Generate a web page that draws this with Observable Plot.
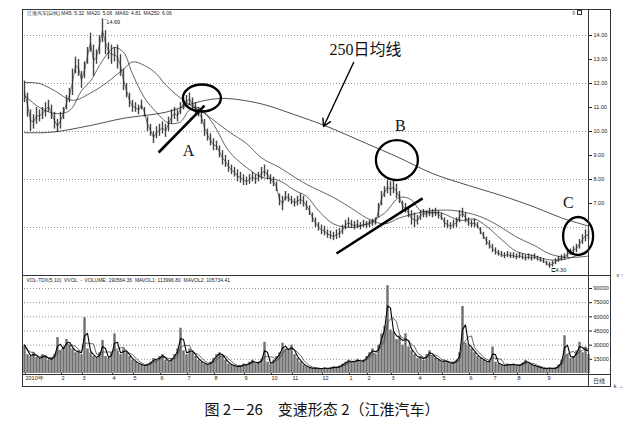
<!DOCTYPE html>
<html>
<head>
<meta charset="utf-8">
<script src="https://cdn.jsdelivr.net/npm/d3@7"></script>
<script src="https://cdn.jsdelivr.net/npm/@observablehq/plot@0.6"></script>
<style>
body { margin: 0; background: #fff; }
#wrap { position: relative; width: 626px; height: 422px; overflow: hidden; font-family: "Liberation Sans", sans-serif; }
#price, #vol, #chrome { position: absolute; left: 0; }
#price { top: 0; }
#vol { top: 270px; }
#chrome { top: 0; pointer-events: none; }
#caption { position: absolute; top: 398px; left: 9px; width: 626px; text-align: center;
  font-family: "Noto Sans CJK SC"; font-size: 15px; color: #111; }
</style>
</head>
<body>
<div id="wrap">
  <div id="price"></div>
  <div id="vol"></div>
  <svg id="chrome" width="626" height="400"></svg>
  <div id="caption">图 2－26　变速形态 2（江淮汽车）</div>
</div>
<script>
// one sample every ~2.3 trading days (high / low)
let hi = [
  12.1,11.6,10.9,10.7,11.0,10.9,11.0,11.2,11.3,11.1,
  10.8,10.5,10.8,11.0,11.5,11.8,12.6,13.1,13.0,12.5,
  12.9,13.5,14.1,13.6,13.4,14.0,14.69,14.2,13.7,13.6,
  13.5,13.6,13.2,12.6,12.0,11.6,11.3,11.2,11.1,11.3,
  11.0,10.6,10.3,10.0,10.2,10.3,10.4,10.3,10.6,10.9,
  11.0,10.9,11.2,11.4,11.5,11.6,11.4,11.2,11.0,10.9,
  10.5,10.1,9.9,9.7,9.6,9.4,9.2,9.0,8.8,8.6,
  8.5,8.4,8.3,8.2,8.1,8.2,8.3,8.2,8.3,8.5,
  8.6,8.4,8.2,8.1,7.9,7.4,7.3,7.5,7.4,7.3,
  7.2,7.3,7.4,7.3,7.1,6.9,6.6,6.4,6.2,6.1,
  6.05,5.9,5.85,5.8,5.9,5.95,6.1,6.3,6.4,6.3,
  6.25,6.3,6.2,6.3,6.25,6.3,6.35,6.4,7.0,7.5,
  7.7,7.95,7.9,7.95,7.8,7.5,7.1,7.0,6.8,6.7,
  6.6,6.5,6.7,6.75,6.7,6.8,6.75,6.8,6.7,6.6,
  6.4,6.3,6.2,6.3,6.4,6.7,6.8,6.6,6.4,6.3,
  6.35,6.2,6.0,5.8,5.6,5.45,5.3,5.15,5.05,5.0,
  4.95,5.0,4.95,4.95,4.9,4.95,4.9,4.85,4.9,4.85,
  4.9,4.8,4.75,4.7,4.6,4.55,4.6,4.7,4.8,4.85,
  4.9,5.0,5.1,5.2,5.3,5.5,5.7,5.9,5.9
];
let lo = [
  11.2,10.6,10.0,10.1,10.3,10.4,10.5,10.6,10.8,10.5,
  10.1,9.95,10.1,10.5,10.9,11.2,11.5,12.4,12.3,11.8,
  12.2,12.8,13.3,12.3,12.8,13.2,13.7,13.2,13.0,12.8,
  12.9,12.6,12.3,11.7,11.4,11.0,10.8,10.8,10.7,10.9,
  10.6,10.0,9.8,9.5,9.7,9.8,9.9,9.75,10.0,10.3,
  10.5,10.4,10.7,10.9,11.0,11.1,10.9,10.75,10.6,10.3,
  9.8,9.6,9.4,9.2,9.2,8.9,8.6,8.5,8.3,8.2,
  8.1,7.9,7.85,7.75,7.75,7.8,7.9,7.8,7.9,8.0,
  8.1,8.0,7.8,7.7,7.5,6.9,6.7,7.1,7.05,6.95,
  6.85,6.9,6.95,6.85,6.7,6.5,6.2,6.0,5.85,5.7,
  5.65,5.55,5.5,5.45,5.5,5.55,5.7,5.9,6.0,5.95,
  5.9,5.95,5.9,6.0,5.95,6.0,6.05,6.1,6.4,6.9,
  7.25,7.4,7.3,7.4,7.2,7.0,6.7,6.6,6.4,6.1,
  6.0,6.1,6.3,6.4,6.4,6.45,6.4,6.45,6.35,6.3,
  6.0,5.95,5.9,5.95,6.0,6.2,6.4,6.2,6.05,6.0,
  6.0,5.95,5.7,5.5,5.25,5.1,4.95,4.85,4.8,4.75,
  4.7,4.75,4.7,4.7,4.65,4.7,4.65,4.6,4.65,4.6,
  4.65,4.6,4.55,4.5,4.4,4.3,4.35,4.45,4.55,4.6,
  4.65,4.75,4.85,4.9,4.95,5.1,5.3,5.4,5.5
];
// volume, thousands of lots
let volK = [
  30,20,18,22,17,15,20,18,14,16,
  20,38,24,28,36,30,26,22,24,20,
  59,26,22,18,16,22,35,18,16,22,
  42,24,20,26,22,18,14,12,10,9,
  8,10,12,16,14,18,20,14,12,16,
  20,26,48,24,20,26,22,18,14,12,
  10,9,12,16,20,22,18,14,10,9,
  8,7,8,10,9,12,14,10,12,15,
  33,12,10,14,18,22,32,26,24,30,
  20,16,12,9,7,6,5,6,5,5,
  6,5,6,7,6,8,10,12,14,12,
  13,15,12,14,18,22,26,20,30,42,
  50,93,46,44,36,40,30,42,28,24,
  20,16,18,14,20,24,18,16,14,12,
  14,12,10,12,14,22,71,32,30,26,
  22,18,16,14,12,13,28,12,10,9,
  8,10,9,10,8,9,11,14,10,9,
  8,7,6,5,5,6,5,6,9,14,
  40,20,16,18,24,33,22,28,20
];

// moving averages (sample position, price)
let ma20At  = [0,5,10,14,16,19,22,25,28,30,33,36,40,44,48,52,55,58,63,68,74,79,85,90,94,98,103,109,114,120,125,129,132,139,145,150,154,159,164,170,175,181,188];
let ma20Val = [11.5,11.0,10.75,10.8,11.0,11.7,12.1,12.75,13.3,13.5,13.3,12.4,11.4,10.8,10.35,10.4,10.9,11.0,10.3,9.2,8.5,8.1,7.95,7.55,7.3,6.7,6.15,6.0,6.15,6.6,7.25,7.15,6.7,6.6,6.3,6.35,6.05,5.5,5.0,4.82,4.65,4.7,5.06];
let ma60At  = [0,5,10,16,22,27,33,36,40,44,47,54,60,68,74,79,85,90,94,103,109,114,120,125,131,136,142,148,153,159,164,170,175,181,188];
let ma60Val = [12.04,12.0,11.7,11.3,11.6,12.0,12.6,12.9,12.75,12.4,11.95,11.2,10.75,10.0,9.5,8.9,8.5,8.1,7.8,7.25,6.8,6.4,6.15,6.4,6.6,6.7,6.72,6.6,6.4,6.0,5.6,5.25,4.9,4.75,4.81];
let ma250At  = [0,9,22,33,47,57,63,68,79,90,100,114,125,136,148,159,170,179,188];
let ma250Val = [9.95,9.97,10.25,10.55,10.8,11.2,11.35,11.37,11.15,10.7,10.25,9.5,8.9,8.25,7.75,7.33,6.85,6.4,6.06];

let monthAt    = [0,12,19,29,36,45,54,63,73,82,89,99,108,114,122,131,139,148,156,164,174];
let monthLabel = ["2010年","2","3","4","5","6","7","8","9","10","11","12","1","2","3","4","5","6","7","8","9"];
let priceTicks = [7,8,9,10,11,12,13,14];
let priceGrid  = [6,8,10,12,14];
let volTicks   = [15,30,45,60,75,90];

const bars = hi.map((h, i) => ({k: i, hi: h, lo: lo[i], v: volK[i]}));
const pairs = (at, val) => at.map((k, i) => ({k, v: val[i]}));
const ma20 = pairs(ma20At, ma20Val), ma60 = pairs(ma60At, ma60Val), ma250 = pairs(ma250At, ma250Val);
const labelOf = new Map(monthAt.map((k, i) => [k, monthLabel[i]]));

const serif = "Liberation Serif, Noto Sans CJK SC, serif";
const dotted = {stroke: "#777", strokeOpacity: 1, strokeDasharray: "1,2", strokeWidth: 0.8};

let price = Plot.plot({
  width: 626, height: 280,
  marginLeft: 24, marginRight: 38, marginTop: 9, marginBottom: 10,
  x: {domain: [0, 188], axis: null},
  y: {domain: [4.208, 15.083], axis: null},
  style: {background: "none", color: "#222", fontFamily: "Liberation Sans"},
  marks: [
    Plot.gridY(priceGrid, dotted),
    Plot.axisY(priceTicks, {anchor: "right", tickSize: 3, tickPadding: 2, fontSize: 5.5, tickFormat: d => d.toFixed(2)}),
    Plot.ruleX(bars, {x: "k", y1: "lo", y2: "hi", stroke: "#444", strokeWidth: 1.4}),
    Plot.line(bars, {x: "k", y: d => (d.hi + d.lo) / 2, stroke: "#222", strokeWidth: 0.6}),
    Plot.line(ma20, {x: "k", y: "v", curve: "catmull-rom", stroke: "#222", strokeWidth: 0.7}),
    Plot.line(ma60, {x: "k", y: "v", curve: "catmull-rom", stroke: "#222", strokeWidth: 0.7}),
    Plot.line(ma250, {x: "k", y: "v", curve: "catmull-rom", stroke: "#222", strokeWidth: 0.8}),
    Plot.text(["江淮汽车(日线) MA5: 5.32  MA20: 5.06  MA60: 4.81  MA250: 6.06"],
      {frameAnchor: "top-left", dx: 2, dy: 2, fontSize: 5, fill: "#222"}),
    Plot.text([{k: 26, p: 14.69}], {x: "k", y: "p", text: d => "‾" + d.p.toFixed(2), textAnchor: "start", dx: 2, dy: 3, fontSize: 5.5}),
    Plot.text([{k: 175, p: 4.3}], {x: "k", y: "p", text: d => "⊏" + d.p.toFixed(2), textAnchor: "start", dx: 1, dy: 2, fontSize: 5.5}),
    // annotations
    Plot.link([{x1: 44.7, y1: 9.125, x2: 60, y2: 11.08}, {x1: 104, y1: 4.917, x2: 132.7, y2: 7.21}],
      {x1: "x1", y1: "y1", x2: "x2", y2: "y2", stroke: "#000", strokeWidth: 2.6}),
    Plot.arrow([{x1: 109.7, y1: 12.875, x2: 99.7, y2: 10.21}],
      {x1: "x1", y1: "y1", x2: "x2", y2: "y2", stroke: "#000", strokeWidth: 1.4, headLength: 9}),
    Plot.text([{k: 54.7, p: 9.21, t: "A"}, {k: 125.3, p: 10.25, t: "B"}, {k: 181.3, p: 7.04, t: "C"}],
      {x: "k", y: "p", text: "t", fontSize: 16, fontFamily: serif, fill: "#111"}),
    Plot.text([{k: 113.7, p: 13.42}], {x: "k", y: "p", text: () => "250日均线", fontSize: 16, fontFamily: serif, fill: "#111"})
  ]
});
// ellipses around A, B, C (radii in pixels)
{
  const sx = price.scale("x"), sy = price.scale("y");
  const rings = [{k: 59.3, p: 11.375, rx: 19, ry: 13.5}, {k: 124.3, p: 8.79, rx: 21, ry: 20}, {k: 184.7, p: 5.625, rx: 15, ry: 19}];
  d3.select(price).selectAll("ellipse.ring").data(rings).join("ellipse")
    .attr("cx", d => sx.apply(d.k)).attr("cy", d => sy.apply(d.p))
    .attr("rx", d => d.rx).attr("ry", d => d.ry)
    .attr("fill", "none").attr("stroke", "#000").attr("stroke-width", 2.3);
}
document.getElementById("price").append(price);

let vol = Plot.plot({
  width: 626, height: 120,
  marginLeft: 24, marginRight: 38, marginTop: 7, marginBottom: 17,
  x: {domain: [0, 188], axis: null},
  y: {domain: [0, 101.65], axis: null},
  style: {background: "none", color: "#222", fontFamily: "Liberation Sans"},
  marks: [
    Plot.gridY(volTicks, dotted),
    Plot.axisY(volTicks, {anchor: "right", tickSize: 3, tickPadding: 2, fontSize: 5.5, tickFormat: d => String(d * 1000)}),
    Plot.axisX(monthAt, {anchor: "bottom", tickSize: 2, tickPadding: 1, fontSize: 5.5, textAnchor: "start", dx: 1,
      tickFormat: d => labelOf.get(d)}),
    Plot.ruleX(bars, {x: "k", y: "v", stroke: "#6e6e6e", strokeWidth: 2.4}),
    Plot.lineY(bars, Plot.windowY({k: 4, anchor: "end"}, {x: "k", y: "v", stroke: "#444", strokeWidth: 0.8})),
    Plot.lineY(bars, Plot.windowY({k: 2, anchor: "end"}, {x: "k", y: "v", stroke: "#000", strokeWidth: 1.1})),
    Plot.text(["VOL-TDX(5,10)  VVOL: -  VOLUME: 190564.36  MAVOL1: 113996.80  MAVOL2: 105734.41"],
      {frameAnchor: "top-left", dx: 2, dy: 1, fontSize: 5, fill: "#222"})
  ]
});
document.getElementById("vol").append(vol);

// chart chrome: outer box and panel separators
{
  const g = d3.select("#chrome").append("g").attr("fill", "none").attr("stroke", "#333").attr("stroke-width", 1);
  g.append("rect").attr("x", 22.5).attr("y", 9.5).attr("width", 588).attr("height", 377);
  g.append("line").attr("x1", 588.5).attr("x2", 588.5).attr("y1", 9).attr("y2", 387);
  g.append("line").attr("x1", 22).attr("x2", 611).attr("y1", 275.5).attr("y2", 275.5);
  g.append("line").attr("x1", 22).attr("x2", 611).attr("y1", 374.5).attr("y2", 374.5);
  g.append("rect").attr("x", 577.5).attr("y", 10.5).attr("width", 4).attr("height", 4);
  const t = d3.select("#chrome").append("g").attr("font-family", "Noto Sans CJK SC").attr("fill", "#222");
  t.append("text").attr("x", 599).attr("y", 383).attr("font-size", 6).attr("text-anchor", "middle").text("日线");
  t.append("text").attr("x", 575).attr("y", 14.5).attr("font-size", 5).attr("text-anchor", "end").text("0");
}
</script>
</body>
</html>
